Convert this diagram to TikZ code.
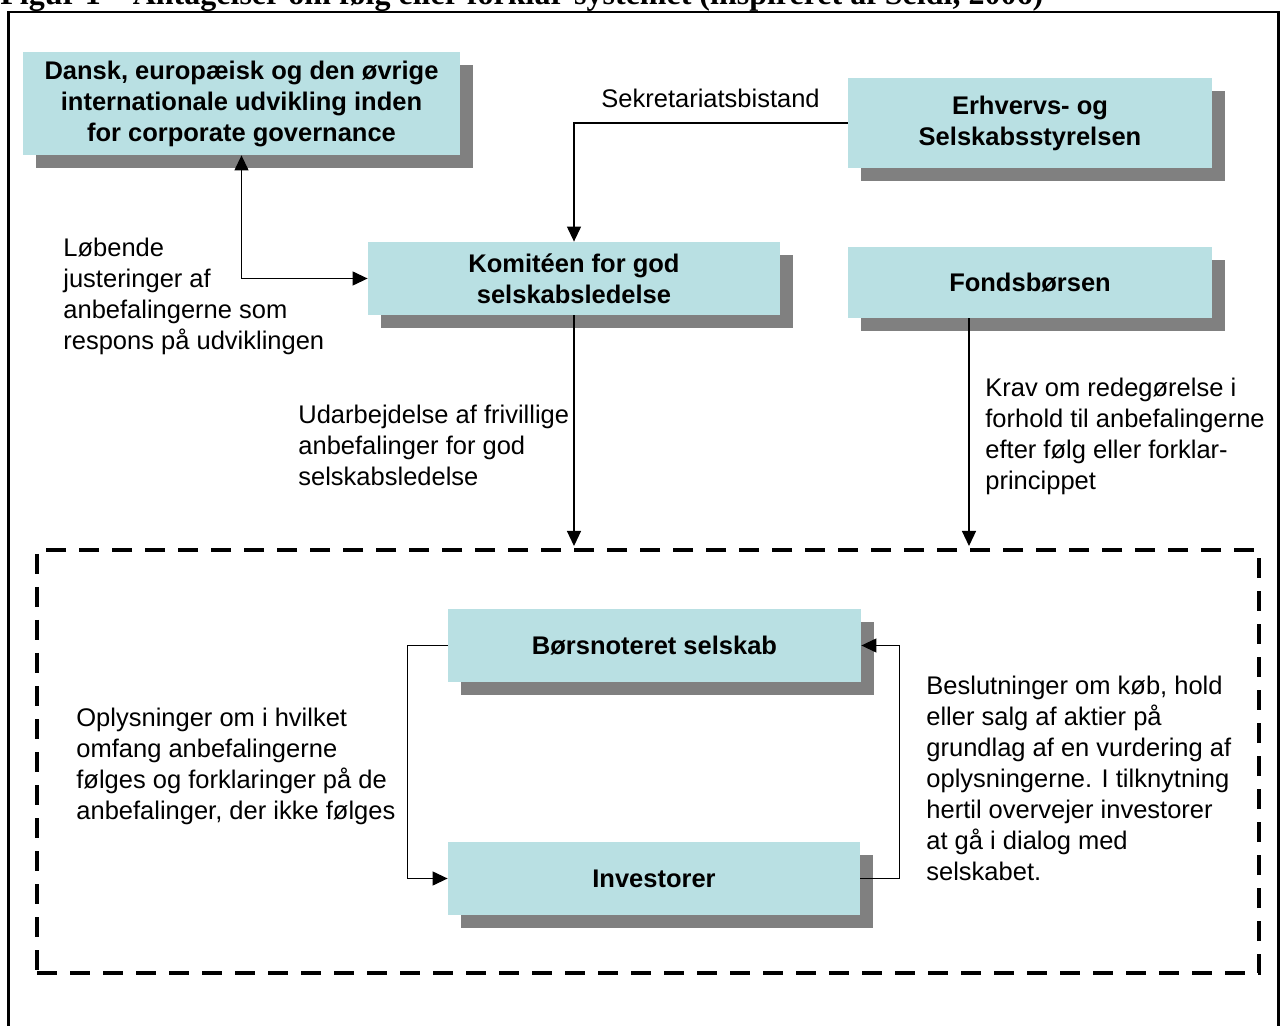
\documentclass[tikz,border=0pt]{standalone}
\usepackage{fontspec}
\setmainfont{Liberation Sans}
\newfontfamily\titlefont{Liberation Serif}
\usepackage{tikz}
\usetikzlibrary{shapes,arrows.meta,shadows}
\definecolor{boxcyan}{RGB}{185,224,227}
\definecolor{shadowgray}{RGB}{128,128,128}
\tikzset{
  box/.style={fill=boxcyan, align=center, inner sep=0pt,
    font=\bfseries\fontsize{12.75}{15.5}\selectfont,
    drop shadow={shadow xshift=6.5pt, shadow yshift=-6.5pt, fill=shadowgray, opacity=1}},
  lbl/.style={align=left, anchor=base west, inner sep=0pt,
    font=\fontsize{12.75}{15.5}\selectfont},
  conn/.style={line width=0.6pt, -{Triangle[length=7.5pt,width=7pt]}},
  dashbox/.style={draw, line width=2pt, dash pattern=on 10pt off 6.5pt,
    minimum width=611pt, minimum height=211.5pt, inner sep=0pt}
}

\begin{document}
\begin{tikzpicture}[x=0.5pt,y=-0.5pt] % follow or explain: who does what
\useasboundingbox (0,0) rectangle (1281,1026);
\node[anchor=base west, inner sep=0pt, font=\titlefont\bfseries\fontsize{16}{19}\selectfont] (title) at (0,5)
  {Figur 1 – Antagelser om følg eller forklar-systemet (inspireret af Seidl, 2006)};
\draw[line width=1.4pt] (8.5,1100) -- (8.5,12) -- (1278.5,12) -- (1278.5,1100);

\node[box, minimum width=218.5pt, minimum height=51.5pt] (dansk) at (241.5,103.5)
  {Dansk, europæisk og den øvrige\\internationale udvikling inden\\for corporate governance};
\node[box, minimum width=182pt, minimum height=45pt] (erhverv) at (1030,123)
  {Erhvervs- og\\Selskabsstyrelsen};
\node[box, minimum width=206pt, minimum height=36.5pt] (komite) at (574,278.5)
  {Komitéen for god\\selskabsledelse};
\node[box, minimum width=182pt, minimum height=35.5pt] (fonds) at (1030,282.5)
  {Fondsbørsen};
\node[dashbox] (marked) at (648,761.5) {};
\node[box, minimum width=206.5pt, minimum height=36.5pt] (bors) at (654.5,645.5)
  {Børsnoteret selskab};
\node[box, minimum width=206pt, minimum height=36.5pt] (invest) at (654,878.5)
  {Investorer};

\draw[conn, {Triangle[length=7.5pt,width=7pt]}-{Triangle[length=7.5pt,width=7pt]}] (dansk.south) |- (komite.west);
\draw[conn] (erhverv.west) -| (komite.north);
\draw[conn] (komite.south) -- ([yshift=1pt]komite.south |- marked.north);
\draw[conn] ([xshift=-30.5pt]fonds.south) -- ([xshift=-30.5pt,yshift=1pt]fonds.south |- marked.north);
\draw[conn] (bors.west) -- ++(-40,0) |- (invest.west);
\draw[conn] (invest.east) -- ++(39,0) |- (bors.east);

\node[lbl] (justering) at (63,350) {Løbende\\justeringer af\\anbefalingerne som\\respons på udviklingen};
\node[lbl] (sekr) at (601,108) {Sekretariatsbistand};
\node[lbl] (udarb) at (298,486) {Udarbejdelse af frivillige\\anbefalinger for god\\selskabsledelse};
\node[lbl] (krav) at (985,490) {Krav om redegørelse i\\forhold til anbefalingerne\\efter følg eller forklar-\\princippet};
\node[lbl] (oplys) at (76,819) {Oplysninger om i hvilket\\omfang anbefalingerne\\følges og forklaringer på de\\anbefalinger, der ikke følges};
\node[lbl] (beslut) at (926,880) {Beslutninger om køb, hold\\eller salg af aktier på\\grundlag af en vurdering af\\oplysningerne. I tilknytning\\hertil overvejer investorer\\at gå i dialog med\\selskabet.};
\end{tikzpicture}
\end{document}
